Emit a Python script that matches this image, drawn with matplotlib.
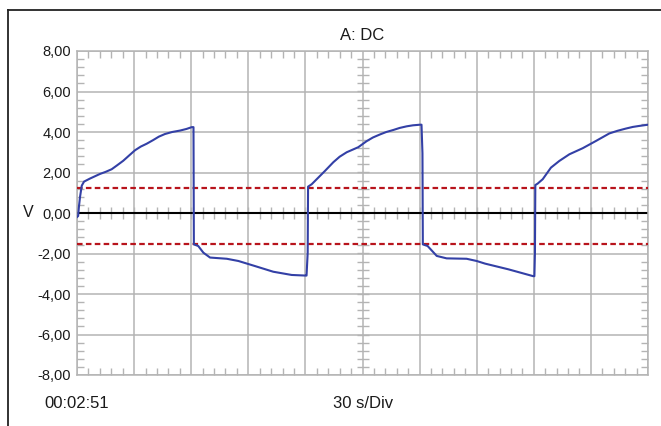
import matplotlib
matplotlib.use("Agg")
import matplotlib.pyplot as plt
from matplotlib.lines import Line2D
from matplotlib.ticker import MultipleLocator, FuncFormatter
import numpy as np

plt.rcParams['font.family'] = ['Liberation Sans', 'DejaVu Sans']
plt.rcParams['lines.scale_dashes'] = False

# ---- data ----
time_s = [0, 0.6, 1.0, 1.6, 2.5, 3.7, 6.8, 12.1, 15.0, 18.2, 21.0, 24.3, 27.5, 30.5, 33.5, 36.6, 40.0, 43.0,
          46.2, 50.0, 54.1, 57.5, 60.3, 61.2,
          61.4, 63.7, 66.4, 69.9, 78.7, 84.8, 93.5, 103.1, 112.8, 120.2, 120.6, 121.2, 121.4,
          123.3, 126.8, 130.3, 134.7, 138.0, 141.7, 147.8, 152.2, 155.5, 159.2, 162.5, 166.2, 169.5, 173.2,
          176.5, 180.2, 181.0, 181.5, 181.7,
          184.2, 189.0, 194.2, 204.7, 210.0, 214.4, 226.6, 239.7, 240.3, 240.6, 240.8,
          242.0, 244.7, 249.0, 253.4, 258.7, 265.7, 272.7, 279.7, 284.0, 288.4, 292.0, 295.4, 300.0]
voltage = [-0.2, -0.15, 0.3, 0.8, 1.35, 1.55, 1.7, 1.93, 2.03, 2.16, 2.35, 2.58, 2.85, 3.1, 3.28, 3.42, 3.6, 3.77,
           3.9, 4.0, 4.07, 4.15, 4.24, 4.24,
           -1.55, -1.63, -1.96, -2.2, -2.26, -2.37, -2.62, -2.9, -3.06, -3.09, -3.09, -1.96, 1.3,
           1.42, 1.75, 2.08, 2.51, 2.78, 3.0, 3.25, 3.55, 3.73, 3.88, 4.0, 4.1, 4.2, 4.28,
           4.33, 4.36, 4.36, 2.95, -1.55,
           -1.63, -2.12, -2.24, -2.26, -2.37, -2.5, -2.78, -3.12, -3.12, -1.96, 1.38,
           1.45, 1.67, 2.24, 2.57, 2.9, 3.2, 3.56, 3.93, 4.06, 4.17, 4.25, 4.3, 4.36]
thresholds = [1.25, -1.55]
y_ticks = [-8, -6, -4, -2, 0, 2, 4, 6, 8]
title_text = "A: DC"
time_label = "00:02:51"
div_label = "30 s/Div"
unit_label = "V"

GRID = '#b4b4b4'
BLUE = '#3340a6'
RED = '#b8141c'
TXT = '#1a1a1a'

fig = plt.figure(figsize=(6.61, 4.26), dpi=100)
ax = fig.add_axes([77/661, 1-375/426, (648-77)/661, (375-51)/426])

ax.set_xlim(0, 300)
ax.set_ylim(-8, 8)
ax.xaxis.set_major_locator(MultipleLocator(30))
ax.xaxis.set_minor_locator(MultipleLocator(6))
ax.set_yticks(y_ticks)
ax.yaxis.set_minor_locator(MultipleLocator(0.4))
ax.yaxis.set_major_formatter(FuncFormatter(lambda v, p: f"{v:.2f}".replace('.', ',')))
ax.set_xticklabels([])
ax.grid(True, which='major', color=GRID, lw=1.1)
ax.set_axisbelow(True)
for s in ax.spines.values():
    s.set_color(GRID)
    s.set_linewidth(1.1)
ax.tick_params(which='major', length=0, labelsize=10.5, pad=4.3, colors=TXT)
ax.tick_params(which='minor', direction='in', length=5, width=1, color=GRID,
               top=True, right=True, bottom=True, left=True)

# ticks along central axes
xm = np.arange(6, 300, 6)
ax.plot(xm, np.zeros_like(xm), ls='none', marker='|', ms=8.5, mew=1, color=GRID, zorder=1.5)
ym = np.arange(-7.6, 8, 0.4)
ax.plot(np.full_like(ym, 150), ym, ls='none', marker='_', ms=8, mew=1, color=GRID, zorder=1.5)

ax.axhline(0, color='black', lw=1.5, zorder=2)
for th in thresholds:
    ax.axhline(th, color=RED, lw=1.6, dashes=(4.0, 2.4), zorder=3)

ax.plot(time_s, voltage, color=BLUE, lw=1.5, zorder=4)

fig.text(28/661, 1-212/426, unit_label, fontsize=11.5, ha='center', va='center', color=TXT)
fig.text(362/661, 1-36/426, title_text, fontsize=12, ha='center', va='center', color=TXT)
fig.text(44/661, 1-404/426, time_label, fontsize=12, ha='left', va='center', color=TXT)
fig.text(333/661, 1-404/426, div_label, fontsize=12, ha='left', va='center', color=TXT)

# outer frame
fig.add_artist(Line2D([8/661, 8/661], [0, 1-10/426], color='#222222', lw=1.3, transform=fig.transFigure))
fig.add_artist(Line2D([8/661, 1], [1-10/426, 1-10/426], color='#222222', lw=1.3, transform=fig.transFigure))

fig.savefig('out.png', dpi=100)
